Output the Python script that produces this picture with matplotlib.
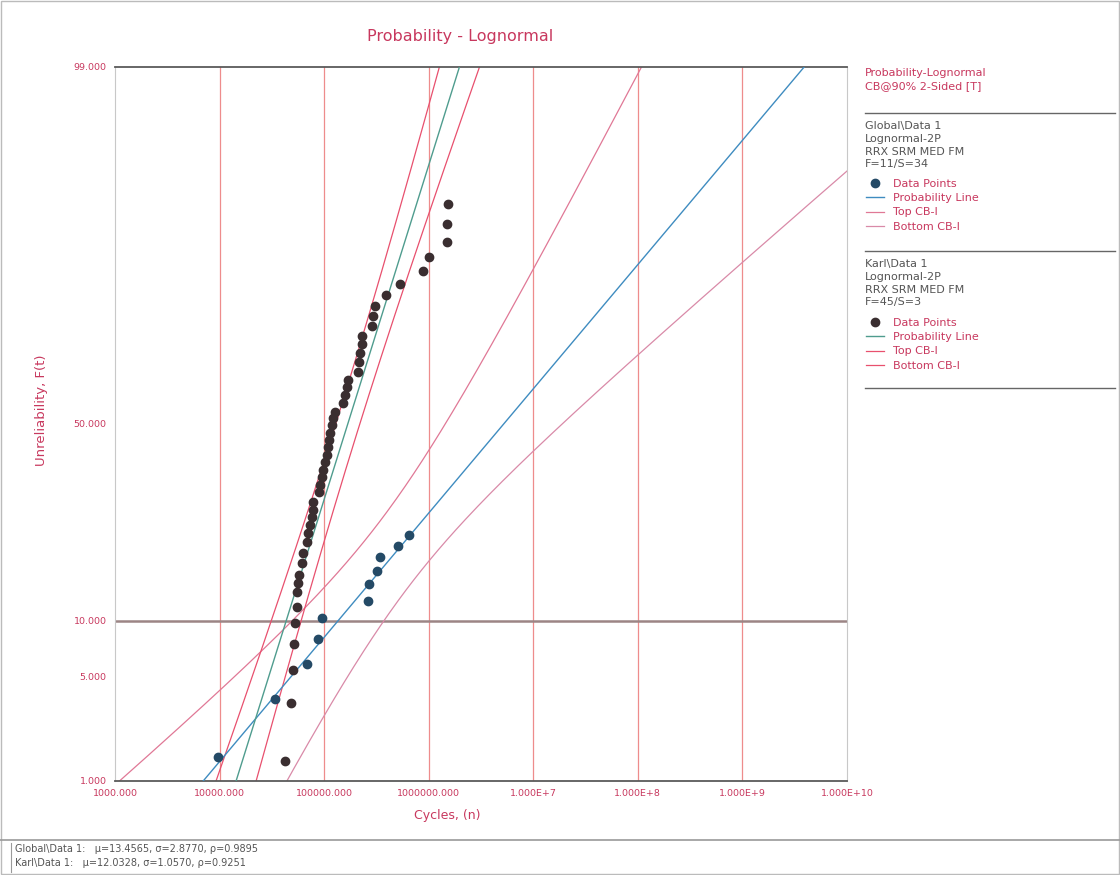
import math
import numpy as np
import matplotlib
matplotlib.use("Agg")
import matplotlib.pyplot as plt
from matplotlib.lines import Line2D

# ---- data ----
global_cycles = [9674, 33970, 68770, 87600, 95700, 263700, 269500, 321600, 343500, 510700, 650800]
global_unrel = [1.50, 3.66, 5.90, 8.07, 10.31, 12.44, 14.86, 16.91, 19.31, 21.34, 23.48]

karl_cycles = [42400, 48300, 50500, 51600, 52800, 55200, 55200, 56400, 57600, 61600,
               63000, 68700, 70300, 73400, 76700, 78500, 78500, 89600, 91600, 95700,
               97800, 102300, 106900, 109200, 111700, 114100, 119400, 122000, 127400, 152000,
               158900, 166000, 169800, 211500, 216300, 220900, 231100, 231100, 287900, 294300,
               307600, 391800, 533300, 885000, 1012000, 1503000, 1503000, 1538000]
karl_unrel = [1.41, 3.46, 5.45, 7.59, 9.74, 11.66, 13.69, 15.01, 16.26, 18.26,
              20.03, 22.10, 23.88, 25.53, 27.23, 28.76, 30.57, 32.89, 34.55, 36.49,
              38.22, 40.22, 42.00, 44.04, 45.85, 47.66, 49.74, 51.56, 53.12, 55.44,
              57.49, 59.53, 61.28, 63.26, 65.69, 67.82, 69.89, 71.68, 73.84, 75.91,
              77.90, 79.97, 81.91, 84.06, 86.17, 88.21, 90.37, 92.41]

# lognormal lines as drawn (ln cycles): mu, sigma, (var mu, cov, var sigma)
global_mu, global_sigma = 15.466, 2.844
global_var = (0.6125, 0.3747, 0.4408)
karl_mu, karl_sigma = 12.0328, 1.057
karl_var = (0.0259, 0.0, 0.0085)
k90 = 1.645

x_ticks = [1e3, 1e4, 1e5, 1e6, 1e7, 1e8, 1e9, 1e10]
x_tick_labels = ["1000.000", "10000.000", "100000.000", "1000000.000",
                 "1.000E+7", "1.000E+8", "1.000E+9", "1.000E+10"]
y_ticks = [1, 5, 10, 50, 99]
y_tick_labels = ["1.000", "5.000", "10.000", "50.000", "99.000"]

global_header = "Global\\Data 1\nLognormal-2P\nRRX SRM MED FM\nF=11/S=34"
karl_header = "Karl\\Data 1\nLognormal-2P\nRRX SRM MED FM\nF=45/S=3"
entry_labels = ["Data Points", "Probability Line", "Top CB-I", "Bottom CB-I"]
footer_lines = ["Global\\Data 1:   \u03bc=13.4565, \u03c3=2.8770, \u03c1=0.9895",
                "Karl\\Data 1:   \u03bc=12.0328, \u03c3=1.0570, \u03c1=0.9251"]

# ---- normal probability scale ----
_erf = np.vectorize(math.erf, otypes=[float])


def norm_cdf(z):
    return 0.5 * (1.0 + _erf(np.asarray(z, float) / math.sqrt(2.0)))


def norm_ppf(p):
    p = np.clip(np.asarray(p, float), 1e-10, 1 - 1e-10)
    q = np.minimum(p, 1 - p)
    z = np.zeros_like(q)
    for _ in range(60):
        pdf = np.exp(-0.5 * z * z) / math.sqrt(2 * math.pi)
        z = z - (norm_cdf(z) - q) / pdf
    return np.where(p > 0.5, -z, z)


def prob_fwd(f):
    return norm_ppf(np.asarray(f, float) / 100.0)


def prob_inv(z):
    return 100.0 * norm_cdf(z)


crimson = "#c8385e"
gray_txt = "#555555"

fig = plt.figure(figsize=(11.2, 8.75), dpi=100)
ax = fig.add_axes([115 / 1120, 1 - 781 / 875, (847 - 115) / 1120, (781 - 67) / 875])
ax.set_xscale("log")
ax.set_yscale("function", functions=(prob_fwd, prob_inv))

# grid
for xv in x_ticks[1:-1]:
    ax.axvline(xv, color="#ee8c8c", lw=0.9, zorder=1)
ax.axhline(10, color="#9c8585", lw=1.8, zorder=1)

z = np.linspace(-3.3, 3.3, 400)
fz = 100 * norm_cdf(z)


def bound_lines(mu, sigma, var):
    vm, cv, vs = var
    sd = np.sqrt(vm + 2 * z * cv + z * z * vs)
    center = mu + sigma * z
    return np.exp(center), np.exp(center - k90 * sd), np.exp(center + k90 * sd)


g_line, g_top, g_bot = bound_lines(global_mu, global_sigma, global_var)
k_line, k_top, k_bot = bound_lines(karl_mu, karl_sigma, karl_var)

h_gtop, = ax.plot(g_top, fz, color="#e07896", lw=0.9, zorder=2)
h_gbot, = ax.plot(g_bot, fz, color="#d98aa8", lw=0.9, zorder=2)
h_gline, = ax.plot(g_line, fz, color="#3f8cc0", lw=1.0, zorder=3)
h_ktop, = ax.plot(k_top, fz, color="#e8506e", lw=0.9, zorder=2)
h_kbot, = ax.plot(k_bot, fz, color="#e8506e", lw=0.9, zorder=2)
h_kline, = ax.plot(k_line, fz, color="#4f9c8e", lw=1.0, zorder=3)

h_gpts, = ax.plot(global_cycles, global_unrel, "o", color="#244a66", ms=6, zorder=4)
h_kpts, = ax.plot(karl_cycles, karl_unrel, "o", color="#3a2e30", ms=6, zorder=4)

ax.set_xlim(1e3, 1e10)
ax.set_ylim(1, 99)
ax.set_xticks(x_ticks)
ax.set_xticklabels(x_tick_labels)
ax.set_yticks(y_ticks)
ax.set_yticklabels(y_tick_labels)
ax.xaxis.set_minor_locator(matplotlib.ticker.NullLocator())
ax.yaxis.set_minor_locator(matplotlib.ticker.NullLocator())
ax.tick_params(length=0, labelsize=6.8, labelcolor=crimson, pad=6)

for side in ["top", "bottom"]:
    ax.spines[side].set_color("#5a5a5a")
    ax.spines[side].set_linewidth(1.3)
for side in ["left", "right"]:
    ax.spines[side].set_color("#c8c8c8")
    ax.spines[side].set_linewidth(0.8)

fig.text(460 / 1120, 1 - 37 / 875, "Probability - Lognormal", color=crimson,
         fontsize=11.5, ha="center", va="center")
fig.text(447 / 1120, 1 - 816 / 875, "Cycles, (n)", color=crimson,
         fontsize=9, ha="center", va="center")
fig.text(42 / 1120, 1 - 410 / 875, "Unreliability, F(t)", color=crimson,
         fontsize=9.5, ha="center", va="center", rotation=90)

# right-hand legend panel
fig.text(865 / 1120, 1 - 68 / 875, "Probability-Lognormal\nCB@90% 2-Sided [T]",
         color=crimson, fontsize=8, ha="left", va="top", linespacing=1.35)
for ysep in [113, 251, 388]:
    fig.add_artist(Line2D([865 / 1120, 1115 / 1120], [1 - ysep / 875] * 2,
                          transform=fig.transFigure, color="#666666", lw=1))

legend_kw = dict(loc="upper left", bbox_transform=fig.transFigure, frameon=False,
                 fontsize=8, handlelength=1.6, handletextpad=0.8, labelspacing=0.38,
                 borderpad=0, borderaxespad=0, numpoints=1, labelcolor=crimson)

fig.text(865 / 1120, 1 - 121 / 875, global_header, color=gray_txt, fontsize=8,
         ha="left", va="top", linespacing=1.35)
leg1 = ax.legend([h_gpts, h_gline, h_gtop, h_gbot], entry_labels,
                 bbox_to_anchor=(866 / 1120, 1 - 179 / 875), **legend_kw)
ax.add_artist(leg1)

fig.text(865 / 1120, 1 - 259 / 875, karl_header, color=gray_txt, fontsize=8,
         ha="left", va="top", linespacing=1.35)
leg2 = ax.legend([h_kpts, h_kline, h_ktop, h_kbot], entry_labels,
                 bbox_to_anchor=(866 / 1120, 1 - 318 / 875), **legend_kw)

# footer
fig.add_artist(Line2D([0, 1], [1 - 840 / 875] * 2, transform=fig.transFigure,
                      color="#9a9a9a", lw=1.2))
fig.add_artist(Line2D([11 / 1120] * 2, [1 - 843 / 875, 1 - 872 / 875],
                      transform=fig.transFigure, color="#9a9a9a", lw=0.8))
for i, line in enumerate(footer_lines):
    fig.text(15 / 1120, 1 - (849 + 14 * i) / 875, line, color=gray_txt,
             fontsize=7, ha="left", va="center")

fig.add_artist(plt.Rectangle((0.001, 0.001), 0.998, 0.998, transform=fig.transFigure,
                             fill=False, edgecolor="#bbbbbb", lw=1))

fig.savefig("out.png", dpi=100)
